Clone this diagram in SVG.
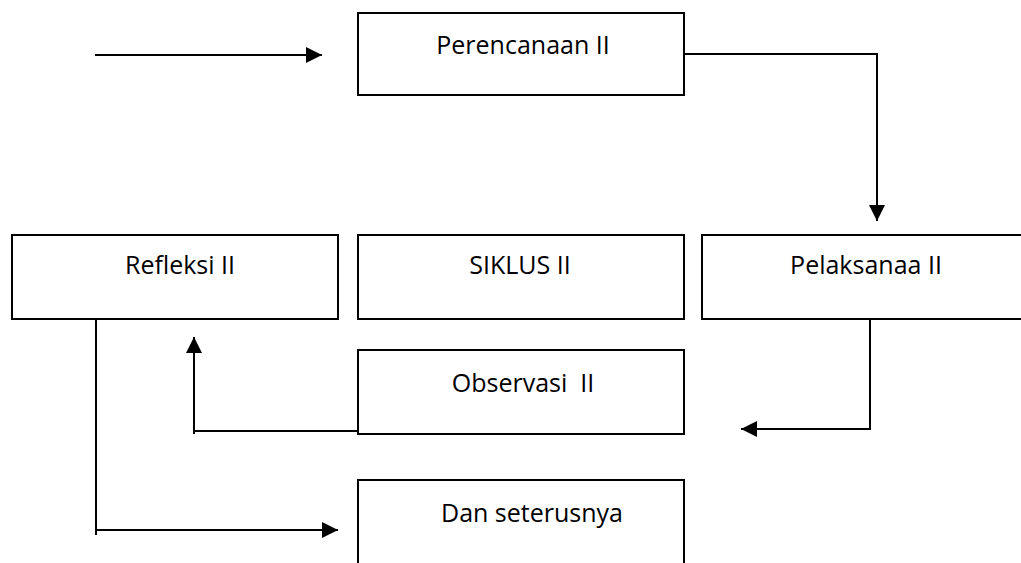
<svg xmlns="http://www.w3.org/2000/svg" width="1021" height="563" viewBox="0 0 1021 563">
<style>
.box{fill:#fff;stroke:#000;stroke-width:2}
.lbl{font-family:"Open Sans","Liberation Sans",sans-serif;font-size:25px;fill:#000;text-anchor:middle}
.con{fill:none;stroke:#000;stroke-width:2}
</style>
<defs>
<marker id="ah" viewBox="0 0 10 10" refX="10" refY="5" markerWidth="16" markerHeight="16" markerUnits="userSpaceOnUse" orient="auto">
<path d="M0,0 L10,5 L0,10 Z" fill="#000"/>
</marker>
</defs>
<rect width="1021" height="563" fill="#fff"/>
<g id="perencanaan"><rect class="box" x="358" y="13" width="326" height="82"/><text class="lbl" x="523" y="54">Perencanaan II</text></g>
<g id="refleksi"><rect class="box" x="12" y="235" width="326" height="84"/><text class="lbl" x="180" y="274">Refleksi II</text></g>
<g id="siklus"><rect class="box" x="358" y="235" width="326" height="84"/><text class="lbl" x="520" y="274">SIKLUS II</text></g>
<g id="pelaksanaa"><rect class="box" x="702" y="235" width="330" height="84"/><text class="lbl" x="866" y="274">Pelaksanaa II</text></g>
<g id="observasi"><rect class="box" x="358" y="350" width="326" height="84"/><text class="lbl" x="523" y="392" xml:space="preserve">Observasi  II</text></g>
<g id="dan"><rect class="box" x="358" y="480" width="326" height="100"/><text class="lbl" x="532" y="522">Dan seterusnya</text></g>
<g id="connectors">
<path class="con" d="M95,55 H322" marker-end="url(#ah)"/>
<path class="con" d="M684,54 H877 V221" marker-end="url(#ah)"/>
<path class="con" d="M870,319 V429 H741" marker-end="url(#ah)"/>
<path class="con" d="M358,431 H194 V337" marker-end="url(#ah)"/>
<path class="con" d="M194,431 V434"/>
<path class="con" d="M96,319 V535"/>
<path class="con" d="M96,530 H338" marker-end="url(#ah)"/>
</g>
</svg>
